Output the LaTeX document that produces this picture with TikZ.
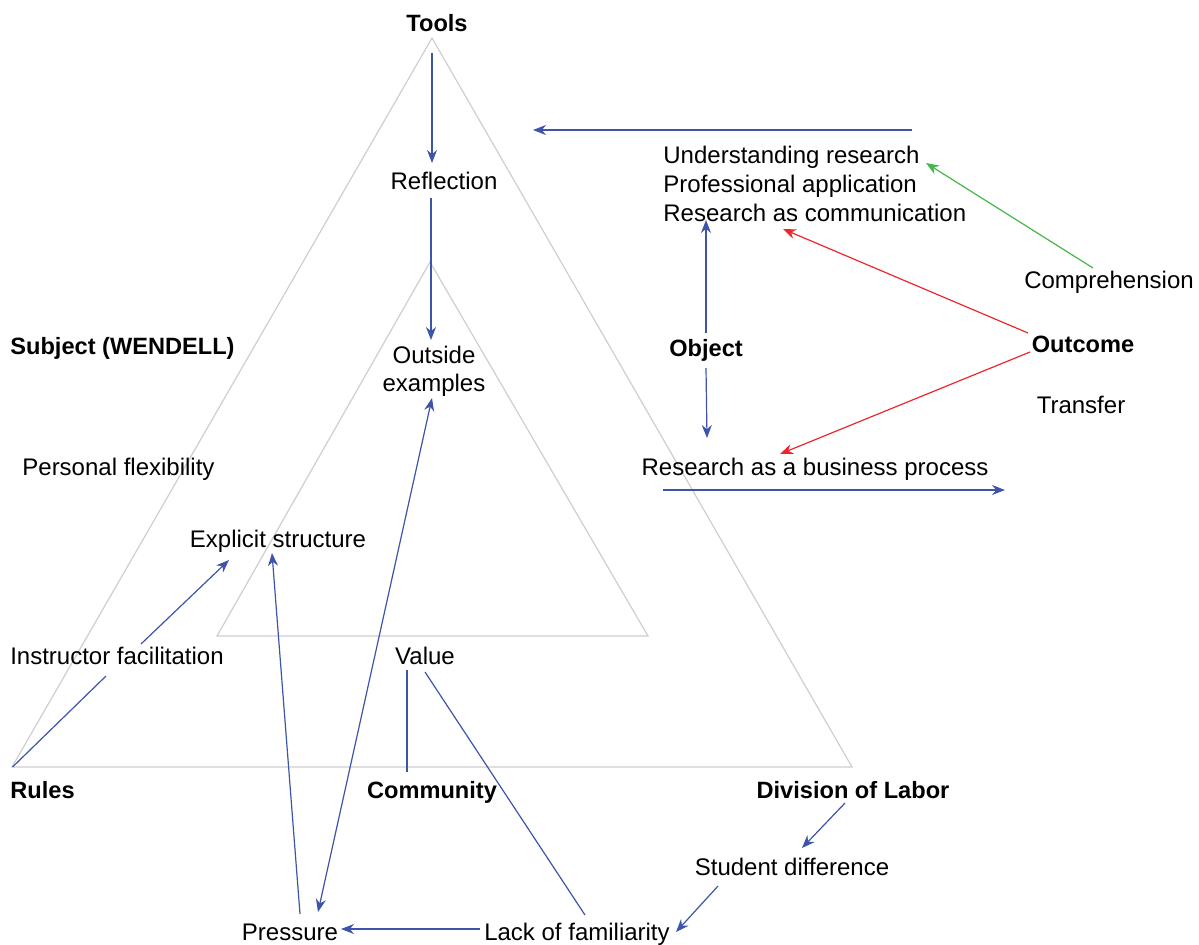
\documentclass[tikz,border=0pt]{standalone}
\usepackage{fontspec}
\setmainfont{Liberation Sans}
\usetikzlibrary{arrows.meta,calc}
\definecolor{linkblue}{RGB}{62,84,168}
\definecolor{linkred}{RGB}{236,38,44}
\definecolor{linkgreen}{RGB}{70,182,72}
\definecolor{framegray}{RGB}{206,206,206}
\begin{document}
\begin{tikzpicture}[x=0.5pt,y=-0.5pt,
  lbl/.style={inner sep=0pt,font=\fontsize{12}{14.5}\selectfont},
  onerow/.style={text height=11pt,text depth=2.5pt},
  head/.style={lbl,onerow,font=\fontsize{11.8}{14}\selectfont\bfseries},
  frame/.style={draw=framegray,line width=0.6pt},
  link/.style={draw=linkblue,line width=0.6pt},
  arr/.style={link,-{Stealth[length=6.5pt,width=5pt]}},
  redarr/.style={arr,draw=linkred},
  greenarr/.style={arr,draw=linkgreen}]
\useasboundingbox (0,0) rectangle (1199,944);

% activity system triangles
\draw[frame] (432,38) -- (12,767) -- (852,767) -- cycle;
\draw[frame] (430,262) -- (217,636) -- (648,636) -- cycle;

% corner headings
\node[head] (tools) at (437,23) {Tools};
\node[head,anchor=west] (subject) at (10,346) {Subject (WENDELL)};
\node[head,anchor=west] (rules) at (10,790) {Rules};
\node[head] (community) at (432,790) {Community};
\node[head] (division) at (853,790) {Division of Labor};
\node[head] (object) at (706,348) {Object};
\node[head] (outcome) at (1083,344) {Outcome};

% themes
\node[lbl,onerow] (refl) at (444,181) {Reflection};
\node[lbl,align=center,font=\fontsize{12}{14}\selectfont] (outside) at (434,371) {Outside\\examples};
\node[lbl,onerow,anchor=west] (flex) at (22,467) {Personal flexibility};
\node[lbl,onerow] (explicit) at (278,539) {Explicit structure};
\node[lbl,onerow] (instr) at (117,656) {Instructor facilitation};
\node[lbl,onerow] (value) at (425,656) {Value};
\node[lbl,onerow] (student) at (792,867) {Student difference};
\node[lbl,onerow] (pressure) at (290,932) {Pressure};
\node[lbl,onerow] (lack) at (577,932) {Lack of familiarity};
\node[lbl,anchor=west,align=left] (list) at (663,184) {Understanding research\\Professional application\\Research as communication};
\node[lbl,onerow] (compr) at (1109,280) {Comprehension};
\node[lbl,onerow] (transfer) at (1081,405) {Transfer};
\node[lbl,onerow] (business) at (815,467) {Research as a business process};

% tools column
\draw[arr] ($(tools)+(-5,30)$) -- ($(refl)+(-12,-18)$);
\draw[arr] ($(refl)+(-13,17)$) -- ($(outside)+(-3,-31)$);
\draw[arr] ($(list.west)+(249,-54)$) -- ($(tools)+(96,107)$);

% object side
\draw[arr] ($(object)+(0,-15)$) -- ($(list.west)+(43,36)$);
\draw[arr] ($(object)+(0,20)$) -- ($(business)+(-108,-29)$);
\draw[arr] ($(business)+(-152,23)$) -- ($(business)+(190,23)$);
\draw[redarr] ($(outcome)+(-55,-11)$) -- ($(list.west)+(120,45)$);
\draw[redarr] ($(outcome)+(-53,8)$) -- ($(business)+(-35,-13)$);
\draw[greenarr] ($(compr)+(-16,-12)$) -- ($(list.west)+(263,-21)$);

% rules and community side
\draw[link] ($(rules)+(-30,-23)$) -- ($(instr)+(-11,20)$);
\draw[arr] ($(instr)+(24,-12)$) -- ($(explicit)+(-49,21)$);
\draw[arr] ($(pressure)+(10,-18)$) -- ($(explicit)+(-6,14)$);
\draw[link,{Stealth[length=6.5pt,width=5pt]}-{Stealth[length=6.5pt,width=5pt]}] ($(outside)+(-2,27)$) -- ($(pressure)+(28,-20)$);
\draw[link] ($(value)+(-18,14)$) -- ($(community)+(-25,-18)$);
\draw[link] ($(value)+(0,16)$) -- ($(lack)+(8,-17)$);
\draw[arr] ($(lack)+(-97,-3)$) -- ($(pressure)+(51,-3)$);
\draw[arr] ($(division)+(-8,13)$) -- ($(student)+(10,-19)$);
\draw[arr] ($(student)+(-74,19)$) -- ($(lack)+(99,0)$);
\end{tikzpicture}
\end{document}
